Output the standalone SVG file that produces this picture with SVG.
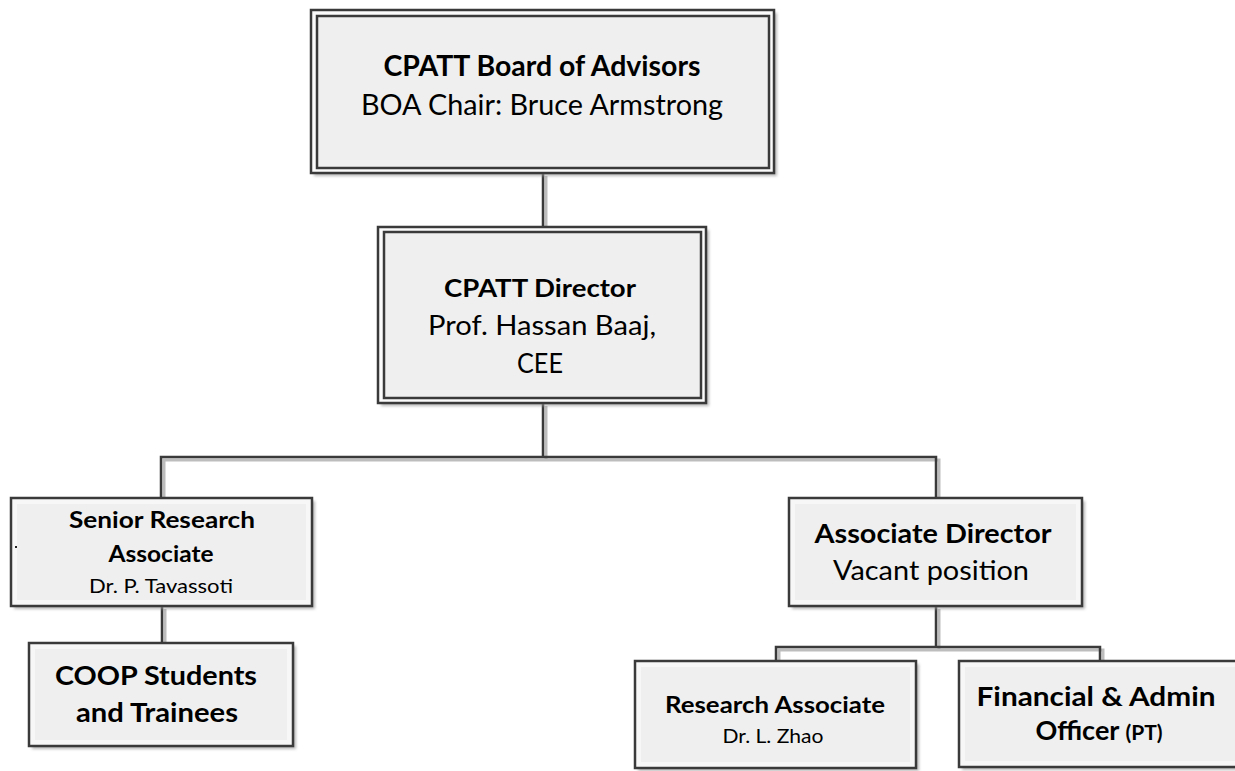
<svg xmlns="http://www.w3.org/2000/svg" width="1235" height="771" viewBox="0 0 1235 771">
<defs>
<filter id="sh" x="-10%" y="-10%" width="130%" height="130%">
<feGaussianBlur stdDeviation="1.5"/>
</filter>
<style>
.bx{fill:#f7f7f7;stroke:#3a3a3a;stroke-width:2.5}
.in{fill:#efefef;stroke:none}
.dbl{fill:#fbfbfb;stroke:#3a3a3a;stroke-width:2.5}
.dblin{fill:#efefef;stroke:#3a3a3a;stroke-width:2.5}
.shd{fill:#9a9a9a;opacity:0.7;filter:url(#sh)}
.ln{fill:none;stroke:#3a3a3a;stroke-width:2.5}
.lns{fill:none;stroke:#bdbdbd;stroke-width:3}
text{font-family:Lato,"Open Sans","Liberation Sans",sans-serif;fill:#000;text-anchor:middle}
.b{font-weight:bold}
</style>
</defs>
<g id="connectors">
<g transform="translate(3,3)">
<path class="lns" d="M543 173V227M543 403V457H161V498M543 457H936V498M162 606V643M936 606V647H776V661M936 647H1100V661"/>
</g>
<path class="ln" d="M543 173V227M543 403V457H161V498M543 457H936V498M162 606V643M936 606V647H776V661M936 647H1100V661"/>
</g>
<g id="board">
<rect class="shd" x="314" y="13" width="463" height="163"/>
<rect class="dbl" x="311" y="10" width="463" height="163"/>
<rect class="dblin" x="317" y="16" width="452" height="152"/>
<text class="b" x="542" y="76" font-size="29" textLength="317" lengthAdjust="spacingAndGlyphs">CPATT Board of Advisors</text>
<text x="542" y="115" font-size="29" textLength="362" lengthAdjust="spacingAndGlyphs">BOA Chair: Bruce Armstrong</text>
</g>
<g id="director">
<rect class="shd" x="381" y="230" width="328" height="176"/>
<rect class="dbl" x="378" y="227" width="328" height="176"/>
<rect class="dblin" x="384" y="232" width="317" height="166"/>
<text class="b" x="540" y="297" font-size="25" textLength="192" lengthAdjust="spacingAndGlyphs">CPATT Director</text>
<text x="542" y="335" font-size="26" textLength="228" lengthAdjust="spacingAndGlyphs">Prof. Hassan Baaj,</text>
<text x="540" y="373" font-size="26" textLength="46" lengthAdjust="spacingAndGlyphs">CEE</text>
</g>
<g id="senior">
<rect class="shd" x="14" y="501" width="301" height="108"/>
<rect class="bx" x="11" y="498" width="301" height="108"/>
<rect class="in" x="17" y="504" width="289" height="96"/>
<text class="b" x="162" y="528" font-size="22" textLength="186" lengthAdjust="spacingAndGlyphs">Senior Research</text>
<text class="b" x="161" y="562" font-size="22" textLength="105" lengthAdjust="spacingAndGlyphs">Associate</text>
<text x="161" y="593" font-size="19" textLength="144" lengthAdjust="spacingAndGlyphs">Dr. P. Tavassoti</text>
<rect x="15" y="546" width="2" height="2" fill="#222"/>
</g>
<g id="coop">
<rect class="shd" x="32" y="646" width="264" height="103"/>
<rect class="bx" x="29" y="643" width="264" height="103"/>
<rect class="in" x="35" y="649" width="252" height="91"/>
<text class="b" x="156" y="685" font-size="27" textLength="202" lengthAdjust="spacingAndGlyphs">COOP Students</text>
<text class="b" x="157" y="722" font-size="27" textLength="162" lengthAdjust="spacingAndGlyphs">and Trainees</text>
</g>
<g id="associate-director">
<rect class="shd" x="792" y="501" width="293" height="108"/>
<rect class="bx" x="789" y="498" width="293" height="108"/>
<rect class="in" x="795" y="504" width="281" height="96"/>
<text class="b" x="933" y="543" font-size="26" textLength="237" lengthAdjust="spacingAndGlyphs">Associate Director</text>
<text x="931" y="580" font-size="26" textLength="196" lengthAdjust="spacingAndGlyphs">Vacant position</text>
</g>
<g id="research-associate">
<rect class="shd" x="638" y="664" width="281" height="107"/>
<rect class="bx" x="635" y="661" width="281" height="107"/>
<rect class="in" x="641" y="667" width="269" height="95"/>
<text class="b" x="775" y="713" font-size="23" textLength="220" lengthAdjust="spacingAndGlyphs">Research Associate</text>
<text x="773" y="743" font-size="19" textLength="101" lengthAdjust="spacingAndGlyphs">Dr. L. Zhao</text>
</g>
<g id="financial">
<rect class="shd" x="962" y="664" width="285" height="106"/>
<rect class="bx" x="959" y="661" width="285" height="106"/>
<rect class="in" x="965" y="667" width="273" height="94"/>
<text class="b" x="1096" y="706" font-size="27" textLength="239" lengthAdjust="spacingAndGlyphs">Financial &amp; Admin</text>
<text class="b" x="1099" y="740" font-size="27">Officer <tspan font-size="21">(PT)</tspan></text>
</g>
</svg>
